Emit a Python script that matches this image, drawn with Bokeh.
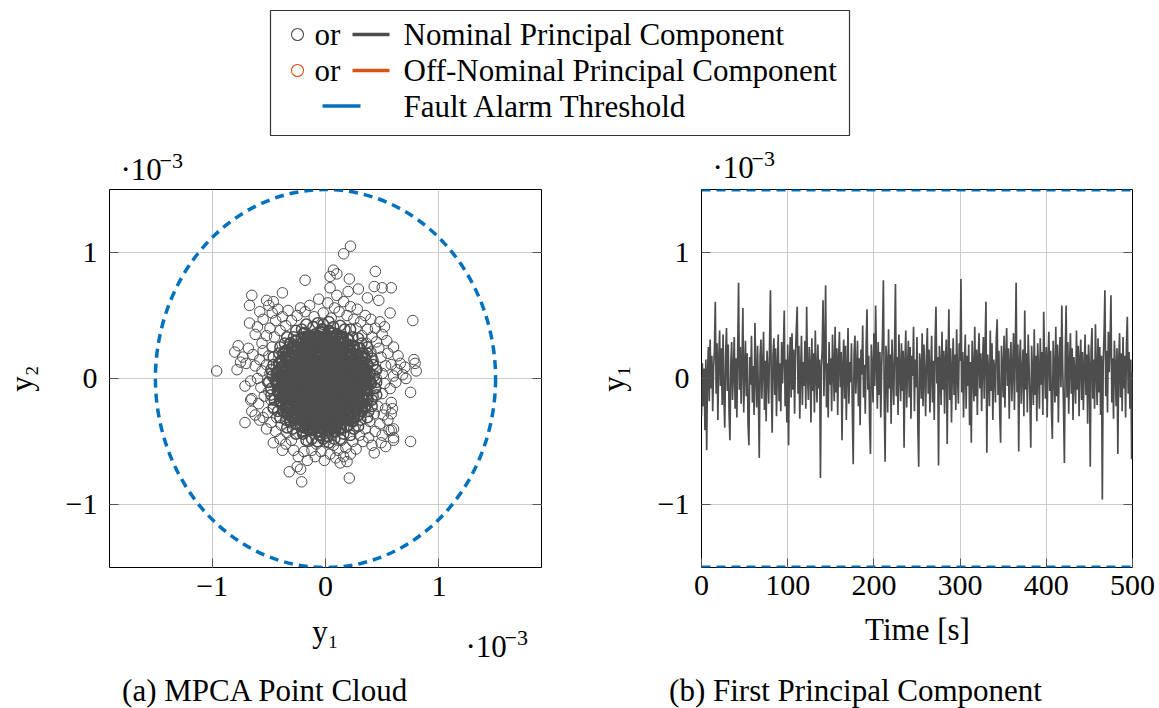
from bokeh.plotting import figure
from bokeh.layouts import column, row
from bokeh.models import Range1d, FixedTicker, LinearAxis
from bokeh.core.properties import value
from bokeh.embed import file_html
from bokeh.resources import INLINE

FONT = "Liberation Serif"
GRAY = "#4d4d4d"
ORANGE = "#D95319"
BLUE = "#0072BD"
GRID = "#cccccc"
TICKC = "#555555"

# ---------------- data (values in units of 1e-3) ----------------
threshold = 1.5
cloud_ticks = [-1, 0, 1]
pc_ticks = [-1, 0, 1]
time_ticks = [0, 100, 200, 300, 400, 500]
tick_text = {-1: "\u22121", 0: "0", 1: "1"}
legend_labels = ["Nominal Principal Component",
                 "Off-Nominal Principal Component",
                 "Fault Alarm Threshold"]
captions = ["(a) MPCA Point Cloud", "(b) First Principal Component"]
x_labels = ["y\u2081", "Time [s]"]
y_labels = ["y\u2082", "y\u2081"]
scale_main, scale_exp = "\u00b710", "\u22123"

cloud_core = [
    (-0.03,0.39),(0.03,0.38),
    (-0.19,0.36),(-0.14,0.34),(-0.09,0.35),(-0.04,0.37),(0.01,0.34),(0.06,0.36),(0.10,0.35),(0.15,0.33),
    (-0.26,0.30),(-0.21,0.32),(-0.17,0.31),(-0.12,0.29),(-0.08,0.32),(-0.03,0.31),(0.02,0.30),(0.06,0.32),(0.11,0.31),(0.15,0.29),(0.20,0.31),
    (-0.31,0.28),(-0.27,0.26),(-0.22,0.27),(-0.17,0.28),(-0.13,0.26),(-0.08,0.27),(-0.04,0.25),(0.01,0.28),(0.06,0.27),(0.10,0.26),(0.15,0.28),(0.20,0.27),(0.25,0.26),
    (-0.35,0.22),(-0.30,0.24),(-0.26,0.23),(-0.21,0.22),(-0.16,0.24),(-0.12,0.23),(-0.07,0.22),(-0.03,0.24),(0.02,0.23),(0.07,0.21),(0.11,0.23),(0.16,0.24),(0.20,0.22),(0.25,0.23),(0.30,0.24),
    (-0.37,0.20),(-0.32,0.18),(-0.28,0.19),(-0.23,0.20),(-0.18,0.18),(-0.14,0.19),(-0.09,0.20),(-0.04,0.18),(0.00,0.19),(0.05,0.20),(0.10,0.18),(0.14,0.19),(0.19,0.20),(0.23,0.18),(0.28,0.19),(0.33,0.20),
    (-0.39,0.14),(-0.35,0.16),(-0.30,0.15),(-0.25,0.14),(-0.21,0.16),(-0.16,0.15),(-0.11,0.14),(-0.07,0.16),(-0.02,0.15),(0.03,0.14),(0.07,0.16),(0.12,0.15),(0.17,0.14),(0.21,0.16),(0.26,0.15),(0.31,0.14),(0.35,0.16),
    (-0.41,0.12),(-0.37,0.10),(-0.32,0.11),(-0.28,0.12),(-0.23,0.10),(-0.18,0.11),(-0.14,0.12),(-0.09,0.10),(-0.05,0.11),(0.00,0.12),(0.05,0.10),(0.09,0.11),(0.14,0.12),(0.18,0.10),(0.23,0.11),(0.28,0.12),(0.32,0.10),(0.37,0.11),
    (-0.42,0.06),(-0.38,0.08),(-0.33,0.07),(-0.29,0.06),(-0.24,0.08),(-0.19,0.07),(-0.15,0.06),(-0.10,0.08),(-0.06,0.07),(-0.01,0.06),(0.04,0.08),(0.08,0.07),(0.13,0.06),(0.17,0.08),(0.22,0.07),(0.27,0.06),(0.31,0.08),(0.36,0.07),
    (-0.43,0.04),(-0.39,0.02),(-0.34,0.03),(-0.30,0.04),(-0.25,0.02),(-0.20,0.03),(-0.16,0.04),(-0.11,0.02),(-0.07,0.03),(-0.02,0.04),(0.03,0.02),(0.07,0.03),(0.12,0.04),(0.17,0.02),(0.21,0.03),(0.26,0.04),(0.30,0.02),(0.35,0.03),(0.39,0.04),
    (-0.44,-0.02),(-0.39,0.00),(-0.35,-0.01),(-0.30,-0.02),(-0.26,0.00),(-0.21,-0.01),(-0.17,-0.02),(-0.12,0.00),(-0.07,-0.01),(-0.03,-0.02),(0.02,0.00),(0.06,-0.01),(0.11,-0.02),(0.15,0.00),(0.20,-0.01),(0.25,-0.02),(0.29,0.00),(0.34,-0.01),(0.39,-0.02),
    (-0.43,-0.04),(-0.38,-0.06),(-0.34,-0.05),(-0.29,-0.04),(-0.25,-0.06),(-0.20,-0.05),(-0.15,-0.04),(-0.11,-0.06),(-0.06,-0.05),(-0.02,-0.04),(0.03,-0.06),(0.08,-0.05),(0.12,-0.04),(0.17,-0.06),(0.21,-0.05),(0.26,-0.04),(0.30,-0.06),(0.35,-0.05),(0.40,-0.04),
    (-0.42,-0.10),(-0.37,-0.08),(-0.33,-0.09),(-0.28,-0.10),(-0.24,-0.08),(-0.19,-0.09),(-0.14,-0.10),(-0.10,-0.08),(-0.05,-0.09),(-0.01,-0.10),(0.04,-0.08),(0.08,-0.09),(0.13,-0.10),(0.18,-0.08),(0.22,-0.09),(0.27,-0.10),(0.31,-0.08),(0.36,-0.09),
    (-0.41,-0.12),(-0.37,-0.14),(-0.32,-0.13),(-0.27,-0.12),(-0.23,-0.14),(-0.18,-0.13),(-0.14,-0.12),(-0.09,-0.14),(-0.04,-0.13),(0.00,-0.12),(0.05,-0.14),(0.09,-0.13),(0.14,-0.12),(0.19,-0.14),(0.23,-0.13),(0.28,-0.12),(0.32,-0.14),(0.37,-0.13),
    (-0.40,-0.18),(-0.36,-0.16),(-0.31,-0.17),(-0.26,-0.18),(-0.22,-0.16),(-0.17,-0.17),(-0.13,-0.18),(-0.08,-0.16),(-0.04,-0.17),(0.01,-0.18),(0.06,-0.16),(0.10,-0.17),(0.15,-0.18),(0.19,-0.16),(0.24,-0.17),(0.28,-0.18),(0.33,-0.16),(0.37,-0.17),
    (-0.39,-0.20),(-0.34,-0.22),(-0.30,-0.21),(-0.25,-0.20),(-0.20,-0.22),(-0.16,-0.21),(-0.11,-0.20),(-0.07,-0.22),(-0.02,-0.21),(0.03,-0.20),(0.07,-0.22),(0.12,-0.21),(0.16,-0.20),(0.21,-0.22),(0.26,-0.21),(0.30,-0.20),(0.35,-0.22),
    (-0.37,-0.26),(-0.32,-0.24),(-0.28,-0.25),(-0.23,-0.26),(-0.19,-0.24),(-0.14,-0.25),(-0.09,-0.26),(-0.05,-0.24),(0.00,-0.25),(0.04,-0.26),(0.09,-0.24),(0.13,-0.25),(0.18,-0.26),(0.23,-0.24),(0.27,-0.25),(0.32,-0.26),
    (-0.34,-0.28),(-0.30,-0.30),(-0.25,-0.29),(-0.21,-0.28),(-0.16,-0.30),(-0.12,-0.29),(-0.07,-0.28),(-0.02,-0.30),(0.02,-0.29),(0.07,-0.28),(0.11,-0.30),(0.16,-0.29),(0.20,-0.28),(0.25,-0.30),(0.29,-0.29),
    (-0.31,-0.34),(-0.27,-0.32),(-0.22,-0.33),(-0.18,-0.34),(-0.13,-0.32),(-0.08,-0.33),(-0.04,-0.34),(0.01,-0.32),(0.05,-0.33),(0.10,-0.34),(0.14,-0.32),(0.19,-0.33),(0.24,-0.34),
    (-0.26,-0.36),(-0.22,-0.38),(-0.17,-0.37),(-0.13,-0.36),(-0.08,-0.38),(-0.04,-0.37),(0.01,-0.36),(0.05,-0.38),(0.10,-0.37),(0.14,-0.36),(0.19,-0.38),
    (-0.20,-0.42),(-0.15,-0.40),(-0.11,-0.41),(-0.06,-0.42),(-0.02,-0.40),(0.03,-0.41),(0.08,-0.42),(0.13,-0.40),
    (-0.05,-0.45),(0.02,-0.46),
]

cloud_inner = [
    (-0.17,0.29),(-0.12,0.30),(-0.08,0.28),(-0.03,0.29),(0.02,0.30),(0.06,0.28),(0.11,0.29),
    (-0.27,0.21),(-0.23,0.20),(-0.18,0.22),(-0.14,0.21),(-0.09,0.20),(-0.05,0.22),(0.00,0.21),(0.04,0.20),(0.09,0.22),(0.13,0.21),(0.18,0.20),(0.22,0.22),
    (-0.33,0.13),(-0.28,0.12),(-0.24,0.14),(-0.19,0.13),(-0.15,0.12),(-0.10,0.14),(-0.06,0.13),(-0.01,0.12),(0.03,0.14),(0.08,0.13),(0.12,0.12),(0.17,0.14),(0.21,0.13),(0.26,0.12),(0.30,0.14),
    (-0.36,0.05),(-0.31,0.04),(-0.27,0.06),(-0.22,0.05),(-0.18,0.04),(-0.13,0.06),(-0.09,0.05),(-0.04,0.04),(0.00,0.06),(0.05,0.05),(0.10,0.04),(0.14,0.06),(0.19,0.05),(0.23,0.04),(0.28,0.06),(0.32,0.05),
    (-0.37,-0.03),(-0.33,-0.02),(-0.28,-0.04),(-0.24,-0.03),(-0.19,-0.02),(-0.15,-0.04),(-0.10,-0.03),(-0.06,-0.02),(-0.01,-0.04),(0.03,-0.03),(0.08,-0.02),(0.12,-0.04),(0.17,-0.03),(0.21,-0.02),(0.26,-0.04),(0.30,-0.03),(0.34,-0.02),
    (-0.36,-0.11),(-0.32,-0.10),(-0.27,-0.12),(-0.23,-0.11),(-0.18,-0.10),(-0.14,-0.12),(-0.09,-0.11),(-0.05,-0.10),(0.00,-0.12),(0.04,-0.11),(0.09,-0.10),(0.13,-0.12),(0.18,-0.11),(0.22,-0.10),(0.27,-0.12),(0.31,-0.11),
    (-0.33,-0.19),(-0.29,-0.18),(-0.24,-0.20),(-0.20,-0.19),(-0.15,-0.18),(-0.11,-0.20),(-0.06,-0.19),(-0.02,-0.18),(0.03,-0.20),(0.07,-0.19),(0.12,-0.18),(0.16,-0.20),(0.21,-0.19),(0.25,-0.18),(0.30,-0.20),
    (-0.28,-0.27),(-0.24,-0.26),(-0.19,-0.28),(-0.15,-0.27),(-0.10,-0.26),(-0.06,-0.28),(-0.01,-0.27),(0.03,-0.26),(0.08,-0.28),(0.12,-0.27),(0.17,-0.26),(0.21,-0.28),
    (-0.17,-0.35),(-0.13,-0.34),(-0.08,-0.36),(-0.04,-0.35),(0.01,-0.34),(0.05,-0.36),(0.10,-0.35),
]

cloud_middle = [
    (-0.18,0.33),(-0.135,0.33),(-0.09,0.33),(-0.045,0.33),(0.00,0.33),(0.045,0.33),(0.09,0.33),(0.135,0.33),
    (-0.29,0.25),(-0.245,0.25),(-0.20,0.25),(-0.155,0.25),(-0.11,0.25),(-0.065,0.25),(-0.02,0.25),(0.025,0.25),(0.07,0.25),(0.115,0.25),(0.16,0.25),(0.205,0.25),(0.25,0.25),
    (-0.355,0.17),(-0.31,0.17),(-0.265,0.17),(-0.22,0.17),(-0.175,0.17),(-0.13,0.17),(-0.085,0.17),(-0.04,0.17),(0.005,0.17),(0.05,0.17),(0.095,0.17),(0.14,0.17),(0.185,0.17),(0.23,0.17),(0.275,0.17),(0.32,0.17),
    (-0.39,0.09),(-0.345,0.09),(-0.30,0.09),(-0.255,0.09),(-0.21,0.09),(-0.165,0.09),(-0.12,0.09),(-0.075,0.09),(-0.03,0.09),(0.015,0.09),(0.06,0.09),(0.105,0.09),(0.15,0.09),(0.195,0.09),(0.24,0.09),(0.285,0.09),(0.33,0.09),
    (-0.405,0.01),(-0.36,0.01),(-0.315,0.01),(-0.27,0.01),(-0.225,0.01),(-0.18,0.01),(-0.135,0.01),(-0.09,0.01),(-0.045,0.01),(0.00,0.01),(0.045,0.01),(0.09,0.01),(0.135,0.01),(0.18,0.01),(0.225,0.01),(0.27,0.01),(0.315,0.01),(0.36,0.01),
    (-0.40,-0.07),(-0.355,-0.07),(-0.31,-0.07),(-0.265,-0.07),(-0.22,-0.07),(-0.175,-0.07),(-0.13,-0.07),(-0.085,-0.07),(-0.04,-0.07),(0.005,-0.07),(0.05,-0.07),(0.095,-0.07),(0.14,-0.07),(0.185,-0.07),(0.23,-0.07),(0.275,-0.07),(0.32,-0.07),(0.365,-0.07),
    (-0.385,-0.15),(-0.34,-0.15),(-0.295,-0.15),(-0.25,-0.15),(-0.205,-0.15),(-0.16,-0.15),(-0.115,-0.15),(-0.07,-0.15),(-0.025,-0.15),(0.02,-0.15),(0.065,-0.15),(0.11,-0.15),(0.155,-0.15),(0.20,-0.15),(0.245,-0.15),(0.29,-0.15),(0.335,-0.15),
    (-0.355,-0.23),(-0.31,-0.23),(-0.265,-0.23),(-0.22,-0.23),(-0.175,-0.23),(-0.13,-0.23),(-0.085,-0.23),(-0.04,-0.23),(0.005,-0.23),(0.05,-0.23),(0.095,-0.23),(0.14,-0.23),(0.185,-0.23),(0.23,-0.23),(0.275,-0.23),(0.32,-0.23),
    (-0.29,-0.31),(-0.245,-0.31),(-0.20,-0.31),(-0.155,-0.31),(-0.11,-0.31),(-0.065,-0.31),(-0.02,-0.31),(0.025,-0.31),(0.07,-0.31),(0.115,-0.31),(0.16,-0.31),(0.205,-0.31),(0.25,-0.31),
    (-0.18,-0.39),(-0.135,-0.39),(-0.09,-0.39),(-0.045,-0.39),(0.00,-0.39),(0.045,-0.39),(0.09,-0.39),(0.135,-0.39),
]

cloud_ring = [
    (0.45,-0.03),(0.43,0.02),(0.45,0.07),(0.42,0.11),(0.41,0.16),(0.37,0.20),(0.37,0.25),(0.32,0.28),
    (0.29,0.32),(0.24,0.33),(0.22,0.39),(0.17,0.39),(0.13,0.42),(0.07,0.41),(0.03,0.45),(-0.02,0.43),
    (-0.07,0.44),(-0.11,0.41),(-0.17,0.43),(-0.21,0.39),(-0.26,0.38),(-0.28,0.33),(-0.34,0.33),(-0.36,0.28),
    (-0.40,0.25),(-0.41,0.20),(-0.46,0.17),(-0.46,0.11),(-0.48,0.07),(-0.47,0.02),(-0.50,-0.03),(-0.48,-0.08),
    (-0.48,-0.13),(-0.45,-0.17),(-0.46,-0.23),(-0.42,-0.26),(-0.40,-0.31),(-0.35,-0.33),(-0.34,-0.39),(-0.29,-0.40),
    (-0.26,-0.44),(-0.20,-0.44),(-0.17,-0.49),(-0.12,-0.48),(-0.07,-0.50),(-0.02,-0.48),(0.03,-0.51),(0.08,-0.48),
    (0.13,-0.48),(0.16,-0.44),(0.22,-0.45),(0.25,-0.40),(0.29,-0.38),(0.31,-0.33),(0.37,-0.31),(0.38,-0.26),
    (0.41,-0.22),(0.41,-0.17),(0.45,-0.13),(0.44,-0.08),
]

cloud_fringe = [
    (-0.25,0.50),(-0.18,0.53),(-0.10,0.49),(-0.02,0.52),(0.05,0.48),(0.12,0.53),(0.19,0.50),(0.25,0.47),
    (-0.30,0.46),(-0.14,0.58),(0.02,0.60),(0.08,0.56),(0.16,0.61),(0.22,0.57),(-0.06,0.63),(0.28,0.55),
    (-0.22,0.56),(0.10,0.66),(0.20,0.69),(0.04,0.72),
    (-0.35,0.42),(-0.40,0.38),(-0.45,0.33),(-0.38,0.49),(-0.44,0.46),(-0.49,0.40),(-0.52,0.34),(-0.47,0.52),
    (-0.55,0.47),(-0.58,0.53),(-0.50,0.58),(-0.42,0.55),(-0.33,0.54),(-0.60,0.41),(-0.56,0.28),(-0.62,0.35),
    (-0.47,0.25),(-0.50,0.18),(-0.52,0.11),(-0.49,0.04),(-0.51,-0.03),(-0.50,-0.10),(-0.48,-0.17),(-0.55,0.22),
    (-0.58,0.15),(-0.56,0.06),(-0.60,0.00),(-0.57,-0.07),(-0.62,0.10),(-0.64,0.19),(-0.68,0.24),(-0.66,-0.02),
    (-0.70,0.12),(-0.73,0.17),(-0.54,-0.14),(-0.59,-0.20),
    (-0.46,-0.24),(-0.43,-0.31),(-0.39,-0.37),(-0.34,-0.43),(-0.51,-0.27),(-0.48,-0.35),(-0.44,-0.42),(-0.40,-0.48),
    (-0.55,-0.31),(-0.52,-0.40),(-0.35,-0.52),(-0.30,-0.49),(-0.28,-0.57),(-0.24,-0.62),(-0.19,-0.58),
    (-0.15,-0.50),(-0.08,-0.52),(0.00,-0.50),(0.07,-0.53),(0.14,-0.49),(-0.12,-0.57),(-0.04,-0.58),(0.04,-0.60),
    (0.11,-0.57),(0.18,-0.55),(0.24,-0.50),(-0.01,-0.65),(0.09,-0.63),(0.16,-0.62),(-0.09,-0.62),(0.22,-0.60),(0.27,-0.56),
    (0.30,-0.45),(0.35,-0.40),(0.39,-0.34),(0.43,-0.28),(0.33,-0.50),(0.38,-0.47),(0.44,-0.42),(0.48,-0.36),
    (0.46,-0.22),(0.51,-0.29),(0.55,-0.33),(0.41,-0.53),(0.50,-0.45),(0.56,-0.41),(0.53,-0.24),(0.58,-0.19),
    (0.42,-0.14),(0.44,-0.07),(0.45,0.00),(0.44,0.07),(0.42,0.14),(0.40,0.21),(0.50,-0.12),(0.52,-0.04),
    (0.50,0.04),(0.53,0.10),(0.49,0.17),(0.47,0.24),(0.57,-0.08),(0.60,0.02),(0.58,0.11),(0.63,0.07),
    (0.55,0.20),(0.62,-0.03),(0.66,0.12),(0.68,0.03),(0.64,0.18),(0.70,0.09),(0.60,0.25),
    (0.36,0.28),(0.32,0.34),(0.27,0.40),(0.41,0.33),(0.37,0.39),(0.31,0.45),(0.45,0.29),(0.44,0.40),
    (0.50,0.35),(0.35,0.50),(0.40,0.47),(0.48,0.45),(0.54,0.30),(0.52,0.41),
]

cloud_outliers = [
    (0.22,1.05),(0.16,0.99),(0.07,0.86),(0.10,0.83),(0.04,0.81),(0.44,0.85),(-0.18,0.78),(0.21,0.79),
    (-0.65,0.66),(-0.38,0.68),(0.43,0.73),(0.50,0.72),(0.58,0.72),(0.77,0.46),(0.57,0.52),(0.47,0.62),
    (-0.67,0.58),(-0.67,0.44),(-0.52,0.62),(-0.46,0.61),(0.29,0.71),(0.37,0.64),
    (-0.96,0.06),(-0.77,0.26),(-0.80,0.21),(-0.78,0.07),(-0.75,0.13),(-0.71,-0.35),(0.75,-0.11),(0.75,-0.50),
    (0.78,0.15),(0.80,0.06),(0.71,0.00),(0.79,0.12),(-0.21,-0.82),(-0.32,-0.74),(-0.22,-0.72),(-0.16,-0.65),
    (-0.25,-0.70),(0.21,-0.79),(0.13,-0.67),(0.19,-0.66),(0.43,-0.59),(0.49,-0.51),(0.60,-0.47),(-0.46,-0.51),
    (-0.38,-0.57),(-0.71,-0.06),(-0.65,-0.16),(-0.62,-0.29),(-0.58,-0.33),(0.59,-0.24),(0.58,-0.28),(0.60,-0.40),
    (0.53,-0.54),(-0.66,-0.17),(-0.65,-0.26),(0.60,-0.49),(0.58,-0.41),
]

pc1_series = [
    -0.30, 0.12, -0.22, 0.08, -0.41, 0.15, -0.57, 0.05, 0.25, -0.18, 0.31, -0.08, 0.18, -0.26, 0.09, 0.22, 0.61, -0.12, 0.28, -0.33, 0.14, 0.38, -0.06, 0.24, -0.21,
    0.35, -0.15, -0.39, 0.19, 0.40, -0.10, 0.27, -0.28, -0.49, 0.11, 0.29, -0.17, 0.06, 0.33, -0.24, 0.16, -0.31, 0.21, 0.76, -0.09, 0.25, -0.20, 0.13, 0.56, -0.27,
    0.07, 0.30, -0.14, 0.20, -0.36, -0.53, 0.17, -0.05, 0.34, -0.19, 0.10, -0.29, 0.44, 0.03, -0.23, 0.26, -0.11, -0.63, 0.18, 0.31, -0.16, 0.09, 0.37, -0.25, 0.14,
    -0.34, 0.22, 0.05, -0.20, 0.28, 0.70, -0.07, -0.43, 0.19, 0.32, -0.13, 0.24, -0.30, 0.08, 0.35, -0.18, 0.12, -0.26, 0.29, -0.04, 0.21, 0.54, -0.22, 0.15, -0.35,
    0.27, -0.53, 0.10, 0.33, -0.15, 0.36, -0.09, 0.23, -0.28, 0.17, 0.39, 0.57, -0.12, 0.26, -0.32, 0.06, 0.34, -0.21, 0.13, -0.06, 0.30, -0.24, 0.57, 0.02, -0.17,
    0.25, 0.11, -0.35, 0.32, -0.10, 0.20, -0.27, 0.38, 0.04, -0.19, 0.27, -0.08, 0.15, -0.79, 0.09, 0.22, 0.62, -0.14, 0.18, 0.74, -0.23, 0.12, -0.31, 0.29, -0.05,
    0.16, -0.26, 0.35, 0.08, -0.18, 0.41, -0.11, 0.24, -0.29, 0.14, 0.37, -0.07, 0.21, -0.49, 0.10, 0.31, -0.16, 0.26, -0.33, 0.05, 0.40, -0.20, 0.13, -0.03, 0.28,
    -0.25, -0.68, 0.19, 0.34, -0.12, 0.07, 0.30, -0.22, 0.16, -0.37, 0.23, 0.03, 0.42, -0.15, 0.11, -0.28, 0.25, 0.55, -0.09, 0.18, -0.34, -0.60, 0.27, 0.08, -0.19,
    0.36, -0.06, 0.58, 0.14, -0.24, 0.29, -0.13, 0.21, -0.31, 0.09, 0.33, 0.78, -0.17, -0.66, 0.26, 0.12, -0.27, 0.39, -0.08, 0.19, -0.36, 0.31, 0.04, -0.21, 0.24,
    0.75, -0.14, 0.17, -0.29, 0.35, 0.06, -0.18, 0.28, -0.10, 0.22, -0.55, 0.13, 0.38, -0.23, 0.09, 0.30, -0.15, 0.25, -0.32, 0.18, 0.02, 0.41, -0.26, 0.15, -0.07,
    0.33, -0.38, -0.70, 0.20, 0.11, -0.16, 0.36, -0.22, 0.27, 0.05, -0.30, 0.19, 0.40, -0.12, 0.23, -0.27, 0.08, 0.34, -0.19, 0.14, -0.33, 0.29, 0.57, -0.04, 0.17,
    -0.69, 0.26, 0.10, -0.21, 0.37, -0.09, 0.22, -0.28, 0.15, 0.31, -0.52, 0.12, 0.55, -0.17, 0.24, -0.35, 0.07, 0.32, -0.13, 0.19, -0.25, 0.39, 0.03, -0.20, 0.28,
    0.14, 0.79, -0.11, 0.21, -0.31, 0.09, 0.35, -0.24, 0.18, -0.06, 0.27, -0.37, 0.13, -0.51, 0.30, 0.05, -0.18, 0.41, -0.14, 0.23, -0.29, 0.16, 0.36, -0.08, 0.20,
    -0.26, 0.11, 0.33, -0.16, 0.25, 0.61, -0.59, 0.19, 0.04, -0.22, 0.38, -0.10, 0.28, -0.33, 0.15, 0.07, -0.19, 0.32, 0.47, -0.13, 0.22, -0.28, -0.51, 0.26, 0.09,
    -0.15, 0.34, -0.23, 0.17, 0.40, -0.06, 0.24, -0.32, 0.12, 0.29, -0.18, 0.08, 0.36, -0.25, 0.19, 0.76, -0.11, 0.27, -0.58, 0.14, 0.31, -0.20, 0.05, 0.23, -0.30,
    0.54, -0.09, 0.20, -0.27, 0.35, 0.10, -0.17, -0.55, 0.26, 0.03, -0.21, 0.39, -0.13, 0.18, -0.34, 0.28, 0.07, -0.24, 0.32, -0.05, 0.21, -0.29, 0.53, 0.12, -0.16,
    0.25, -0.31, 0.16, 0.37, -0.10, 0.22, -0.26, -0.48, 0.30, 0.06, -0.19, 0.41, -0.14, 0.27, -0.35, 0.13, 0.33, -0.07, 0.58, 0.09, -0.23, -0.67, 0.20, 0.58, -0.15,
    0.29, -0.28, 0.11, 0.36, -0.12, 0.24, -0.33, 0.17, 0.04, -0.20, 0.38, -0.09, 0.26, -0.30, 0.14, 0.31, -0.17, 0.21, -0.25, 0.08, 0.35, -0.13, 0.19, -0.36, 0.27,
    0.10, -0.70, 0.23, 0.40, -0.16, 0.15, -0.24, 0.43, 0.06, -0.21, 0.32, -0.11, 0.25, -0.29, 0.18, -0.96, 0.12, 0.34, 0.70, -0.14, 0.22, -0.27, 0.37, 0.05, 0.28,
    0.66, -0.19, 0.16, -0.32, 0.30, 0.09, -0.22, 0.24, -0.60, 0.13, 0.36, -0.15, 0.20, -0.26, 0.33, -0.08, 0.18, -0.31, 0.27, 0.49, -0.12, 0.21, -0.24, 0.15, -0.64, 0.05,
]

dense = cloud_core + cloud_inner + cloud_middle
sparse = cloud_fringe + cloud_outliers
time_s = list(range(len(pc1_series)))

# ---------------- page geometry (pixels, page starts at 0,0) ----------------
W = 1159
HEAD_H = 186
ROW_TOP, ROW_BOT = 186, 610
FOOT_TOP = ROW_BOT
FOOT_H = 708 - FOOT_TOP
TOP_B = 3
FRAME_H = 378
MID = 0.3375  # (ascent - descent) / 2 in em: "middle" anchor to baseline


def anchor(baseline, size):
    return baseline - MID * size


def style_main_axis(ax, ticks, label=None, label_standoff=0, tick_standoff=8):
    ax.ticker = FixedTicker(ticks=ticks)
    if ticks == [-1, 0, 1]:
        ax.major_label_overrides = tick_text
    ax.axis_line_color = None
    ax.major_tick_in = 9
    ax.major_tick_out = 0
    ax.minor_tick_out = 0
    ax.major_tick_line_color = TICKC
    ax.minor_tick_line_color = None
    ax.major_label_text_font = FONT
    ax.major_label_text_font_size = "30px"
    ax.major_label_text_color = "black"
    ax.major_label_standoff = tick_standoff
    if label is not None:
        ax.axis_label = label
        ax.axis_label_text_font = FONT
        ax.axis_label_text_font_size = "31px"
        ax.axis_label_text_font_style = "normal"
        ax.axis_label_text_color = "black"
        ax.axis_label_standoff = label_standoff


def add_mirror_axis(p, ticks):
    ax = LinearAxis(ticker=FixedTicker(ticks=ticks), axis_line_color=None,
                    major_tick_in=9, major_tick_out=0, minor_tick_out=0,
                    major_tick_line_color=TICKC, minor_tick_line_color=None,
                    major_label_text_font_size="0px", major_label_text_color=None,
                    major_label_standoff=0)
    p.add_layout(ax, "right")


def style_grid(p):
    for g in (p.xgrid[0], p.ygrid[0]):
        g.grid_line_color = GRID
        g.grid_line_width = 1


def strip(height, top):
    return figure(width=W, height=height, x_range=Range1d(0, W), y_range=Range1d(top + height, top),
                  x_axis_type=None, y_axis_type=None, toolbar_location=None,
                  output_backend="svg", min_border=0, outline_line_color=None)


def put_text(s, xs, baselines, texts, size, align="left"):
    s.text(x=xs, y=[anchor(b, size) for b in baselines], text=texts, text_font=value(FONT),
           text_font_size=value(f"{size}px"), text_baseline="middle", text_align=align,
           text_color="black")


# ---------------- header: legend + scale factors ----------------
head = strip(HEAD_H, 0)
head.quad(left=[270], right=[849], top=[10], bottom=[135], fill_color="white",
          line_color="#333333", line_width=1.2)
head.scatter(x=[297, 297], y=[34, 70], marker="circle", size=12, fill_color=None,
             line_color=[GRAY, ORANGE], line_width=1.1)
put_text(head, [314, 314], [44.5, 80.5], ["or", "or"], 31)
head.segment(x0=[352, 352, 322], y0=[34, 70, 105.5], x1=[389, 389, 360], y1=[34, 70, 105.5],
             line_color=[GRAY, ORANGE, BLUE], line_width=3.5)
put_text(head, [403, 403, 403], [44.5, 80.5, 116], legend_labels, 31)
put_text(head, [120, 712], [179, 177], [scale_main, scale_main], 31)
put_text(head, [159, 751], [168, 166], [scale_exp, scale_exp], 22)

# ---------------- (a) point cloud ----------------
row_h = ROW_BOT - ROW_TOP
bot_b = row_h - TOP_B - FRAME_H
pa = figure(width=590, height=row_h, x_range=Range1d(-1.905, 1.905), y_range=Range1d(-1.5, 1.5),
            toolbar_location=None, output_backend="svg",
            min_border_left=109, min_border_right=49, min_border_top=TOP_B,
            min_border_bottom=bot_b)
pa.outline_line_color = "black"
pa.outline_line_width = 1
style_main_axis(pa.below[0], cloud_ticks, tick_standoff=9)
style_main_axis(pa.left[0], cloud_ticks, y_labels[0], 24, 12)
add_mirror_axis(pa, cloud_ticks)
style_grid(pa)

pa.scatter(x=[p[0] for p in dense], y=[p[1] for p in dense], marker="circle", size=10.5,
           fill_color=None, line_color=GRAY, line_width=2.2)
pa.scatter(x=[p[0] for p in cloud_ring], y=[p[1] for p in cloud_ring], marker="circle",
           size=10.5, fill_color=None, line_color=GRAY, line_width=1.5)
pa.scatter(x=[p[0] for p in sparse], y=[p[1] for p in sparse], marker="circle", size=10.5,
           fill_color=None, line_color=GRAY, line_width=1.0)
pa.ellipse(x=[0], y=[0], width=[2 * threshold], height=[2 * threshold], fill_color=None,
           line_color=BLUE, line_width=3.5, line_dash="9 6")

# ---------------- (b) first principal component ----------------
pb = figure(width=W - 590, height=row_h, x_range=Range1d(0, 500), y_range=Range1d(-1.5, 1.5),
            toolbar_location=None, output_backend="svg",
            min_border_left=111, min_border_right=27, min_border_top=TOP_B,
            min_border_bottom=bot_b)
pb.outline_line_color = "black"
pb.outline_line_width = 1
style_main_axis(pb.below[0], time_ticks, tick_standoff=8)
style_main_axis(pb.left[0], pc_ticks, y_labels[1], 24, 12)
add_mirror_axis(pb, pc_ticks)
style_grid(pb)

pb.line(x=time_s, y=pc1_series, line_color=GRAY, line_width=1.7)
for lvl in (threshold, -threshold):
    pb.line(x=[time_s[0], time_s[-1]], y=[lvl, lvl], line_color=BLUE, line_width=4,
            line_dash="9 6")

# ---------------- footer: x labels, scale factor, captions ----------------
foot = strip(FOOT_H, FOOT_TOP)
put_text(foot, [325], [641], [x_labels[0]], 31, align="center")
put_text(foot, [917], [639.5], [x_labels[1]], 31, align="center")
put_text(foot, [465], [656.5], [scale_main], 31)
put_text(foot, [504], [645], [scale_exp], 22)
put_text(foot, [265, 855], [700, 700], captions, 31, align="center")

layout = column(head, row(pa, pb), foot)
open("out.html", "w").write(file_html(layout, INLINE))
